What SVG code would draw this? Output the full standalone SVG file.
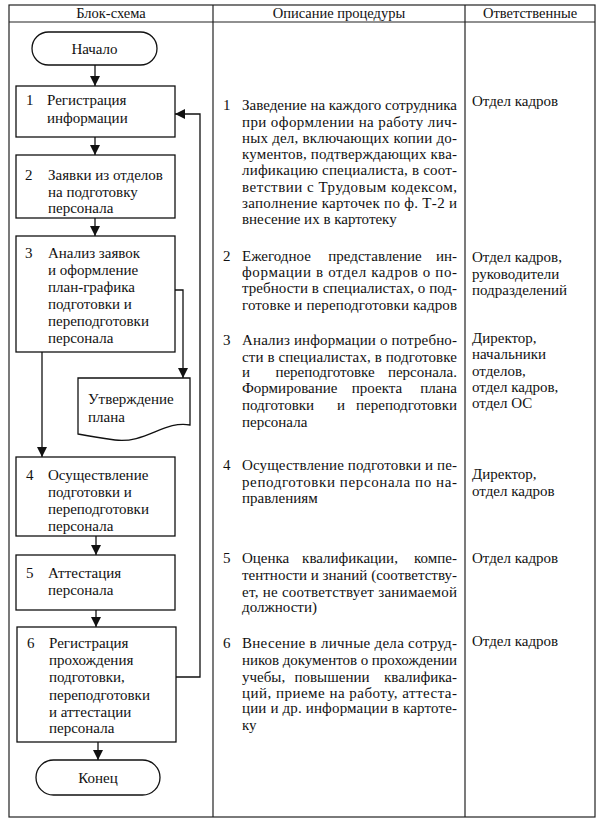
<svg xmlns="http://www.w3.org/2000/svg" width="603" height="828" viewBox="0 0 603 828">
<defs>
<style>
text{font-family:'Times New Roman',Tinos,'Noto Serif','Liberation Serif','DejaVu Serif',FreeSerif,serif;font-size:15px;fill:#111}
.h{font-size:14.5px;text-anchor:middle}
.c{text-anchor:middle}
.e{text-anchor:end}
.box{fill:#fff;stroke:#111;stroke-width:1.3}
.grid{fill:none;stroke:#222;stroke-width:1.2}
.ln{fill:none;stroke:#111;stroke-width:1.3}
</style>
<marker id="ah" viewBox="0 0 10 10" refX="10" refY="5" markerWidth="10" markerHeight="10" markerUnits="userSpaceOnUse" orient="auto">
<path d="M0,0 L10,5 L0,10 Z" fill="#111"/>
</marker>
</defs>
<rect width="603" height="828" fill="#fff"/>
<g id="table">
<rect class="grid" x="9" y="5" width="586" height="812"/>
<line class="grid" x1="9" y1="22" x2="595" y2="22"/>
<line class="grid" x1="213" y1="5" x2="213" y2="817"/>
<line class="grid" x1="465" y1="5" x2="465" y2="817"/>
<text class="h" x="111" y="18">Блок-схема</text>
<text class="h" x="339" y="18">Описание процедуры</text>
<text class="h" x="530" y="18">Ответственные</text>
</g>
<g id="connectors">
<line class="ln" x1="95" y1="65" x2="95" y2="86" marker-end="url(#ah)"/>
<line class="ln" x1="95" y1="137" x2="95" y2="155" marker-end="url(#ah)"/>
<line class="ln" x1="95" y1="218" x2="95" y2="236" marker-end="url(#ah)"/>
<polyline class="ln" points="175,290 183,290 183,378" marker-end="url(#ah)"/>
<line class="ln" x1="42" y1="352" x2="42" y2="457" marker-end="url(#ah)"/>
<line class="ln" x1="96" y1="536" x2="96" y2="555" marker-end="url(#ah)"/>
<line class="ln" x1="96" y1="610" x2="96" y2="627" marker-end="url(#ah)"/>
<line class="ln" x1="98" y1="742" x2="98" y2="760" marker-end="url(#ah)"/>
<polyline class="ln" points="175,677 200,677 200,114 175,114" marker-end="url(#ah)"/>
</g>
<g id="node-start">
<rect class="box" x="32" y="32" width="125" height="33" rx="16.5"/>
<text class="c" x="94.5" y="54">Начало</text>
</g>
<g id="node-1">
<rect class="box" x="16" y="86" width="159" height="51"/>
<text x="26" y="105">1</text>
<text x="47" y="105">Регистрация</text>
<text x="47" y="123">информации</text>
</g>
<g id="node-2">
<rect class="box" x="16" y="155" width="159" height="63"/>
<text x="25" y="180">2</text>
<text x="48" y="180">Заявки из отделов</text>
<text x="48" y="197">на подготовку</text>
<text x="48" y="213">персонала</text>
</g>
<g id="node-3">
<rect class="box" x="16" y="236" width="159" height="116"/>
<text x="25" y="258">3</text>
<text x="48" y="258">Анализ заявок</text>
<text x="48" y="275">и оформление</text>
<text x="48" y="292">план-графика</text>
<text x="48" y="309">подготовки и</text>
<text x="48" y="326">переподготовки</text>
<text x="48" y="343">персонала</text>
</g>
<g id="node-doc">
<path class="box" d="M78,378 H190 V425 C165,420 145,444 115,440 C100,438 88,436 78,434 Z"/>
<text x="88" y="404">Утверждение</text>
<text x="88" y="422">плана</text>
</g>
<g id="node-4">
<rect class="box" x="16" y="457" width="159" height="79"/>
<text x="26" y="480">4</text>
<text x="48" y="480">Осуществление</text>
<text x="48" y="497">подготовки и</text>
<text x="48" y="514">переподготовки</text>
<text x="48" y="531">персонала</text>
</g>
<g id="node-5">
<rect class="box" x="16" y="555" width="159" height="55"/>
<text x="26" y="578">5</text>
<text x="48" y="578">Аттестация</text>
<text x="48" y="595">персонала</text>
</g>
<g id="node-6">
<rect class="box" x="17" y="627" width="159" height="115"/>
<text x="27" y="648">6</text>
<text x="49" y="648">Регистрация</text>
<text x="49" y="665">прохождения</text>
<text x="49" y="682">подготовки,</text>
<text x="49" y="700">переподготовки</text>
<text x="49" y="717">и аттестации</text>
<text x="49" y="733">персонала</text>
</g>
<g id="node-end">
<rect class="box" x="36" y="760" width="124" height="35" rx="17.5"/>
<text class="c" x="98" y="783">Конец</text>
</g>
<g id="descriptions">
<text x="223" y="110">1</text>
<text x="242" y="110" textLength="215" lengthAdjust="spacing">Заведение на каждого сотрудника</text>
<text x="242" y="127" textLength="215" lengthAdjust="spacing">при оформлении на работу лич-</text>
<text x="242" y="143" textLength="215" lengthAdjust="spacing">ных дел, включающих копии до-</text>
<text x="242" y="159" textLength="215" lengthAdjust="spacing">кументов, подтверждающих ква-</text>
<text x="242" y="175" textLength="215" lengthAdjust="spacing">лификацию специалиста, в соот-</text>
<text x="242" y="192" textLength="215" lengthAdjust="spacing">ветствии с Трудовым кодексом,</text>
<text x="242" y="208" textLength="215" lengthAdjust="spacing">заполнение карточек по ф. Т-2 и</text>
<text x="242" y="224">внесение их в картотеку</text>

<text x="223" y="261">2</text>
<text x="242" y="261">Ежегодное</text><text class="c" x="375" y="261">представление</text><text class="e" x="457" y="261">ин-</text>
<text x="242" y="277" textLength="215" lengthAdjust="spacing">формации в отдел кадров о по-</text>
<text x="242" y="293" textLength="215" lengthAdjust="spacing">требности в специалистах, о под-</text>
<text x="242" y="310" textLength="215" lengthAdjust="spacing">готовке и переподготовки кадров</text>

<text x="223" y="345">3</text>
<text x="242" y="345" textLength="215" lengthAdjust="spacing">Анализ информации о потребно-</text>
<text x="242" y="362" textLength="215" lengthAdjust="spacing">сти в специалистах, в подготовке</text>
<text x="242" y="377">и</text><text class="c" x="325" y="377">переподготовке</text><text class="e" x="457" y="377">персонала.</text>
<text x="242" y="393">Формирование</text><text class="c" x="377" y="393">проекта</text><text class="e" x="457" y="393">плана</text>
<text x="242" y="410">подготовки</text><text class="c" x="341" y="410">и</text><text class="e" x="457" y="410">переподготовки</text>
<text x="242" y="427">персонала</text>

<text x="223" y="470">4</text>
<text x="242" y="470" textLength="215" lengthAdjust="spacing">Осуществление подготовки и пе-</text>
<text x="242" y="487" textLength="215" lengthAdjust="spacing">реподготовки персонала по на-</text>
<text x="242" y="503">правлениям</text>

<text x="223" y="563">5</text>
<text x="242" y="563">Оценка</text><text class="c" x="350" y="563">квалификации,</text><text class="e" x="457" y="563">компе-</text>
<text x="242" y="580" textLength="215" lengthAdjust="spacing">тентности и знаний (соответству-</text>
<text x="242" y="597" textLength="215" lengthAdjust="spacing">ет, не соответствует занимаемой</text>
<text x="242" y="612">должности)</text>

<text x="223" y="648">6</text>
<text x="242" y="648" textLength="215" lengthAdjust="spacing">Внесение в личные дела сотруд-</text>
<text x="242" y="665" textLength="215" lengthAdjust="spacing">ников документов о прохождении</text>
<text x="242" y="682">учебы,</text><text class="c" x="332" y="682">повышении</text><text class="e" x="457" y="682">квалифика-</text>
<text x="242" y="698" textLength="215" lengthAdjust="spacing">ций, приеме на работу, аттеста-</text>
<text x="242" y="713" textLength="215" lengthAdjust="spacing">ции и др. информации в картоте-</text>
<text x="242" y="730">ку</text>
</g>
<g id="responsible">
<text x="472" y="106">Отдел кадров</text>
<text x="472" y="262">Отдел кадров,</text>
<text x="472" y="279">руководители</text>
<text x="472" y="295">подразделений</text>
<text x="472" y="343">Директор,</text>
<text x="472" y="359">начальники</text>
<text x="472" y="376">отделов,</text>
<text x="472" y="392">отдел кадров,</text>
<text x="472" y="408">отдел ОС</text>
<text x="472" y="479">Директор,</text>
<text x="472" y="496">отдел кадров</text>
<text x="472" y="563">Отдел кадров</text>
<text x="472" y="646">Отдел кадров</text>
</g>
</svg>
